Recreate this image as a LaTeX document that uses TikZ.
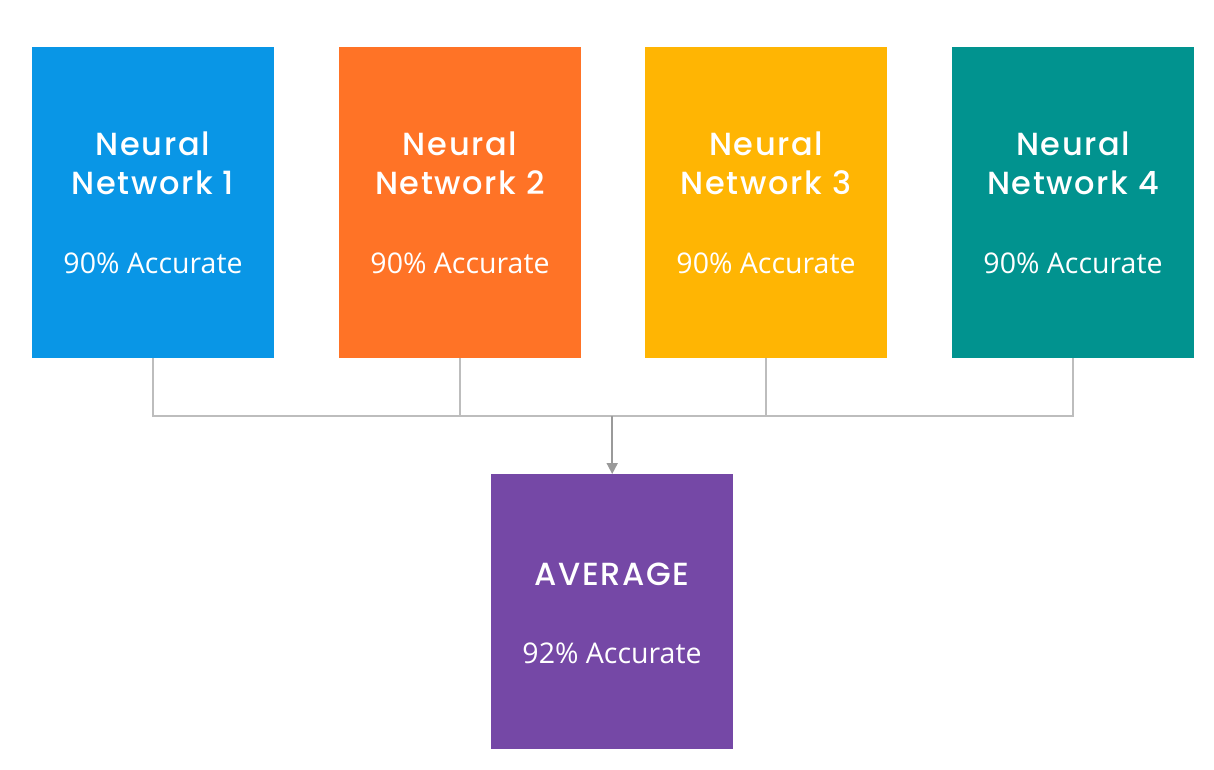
\documentclass[tikz,border=0pt]{standalone}
\usepackage{fontspec}
\setmainfont{Open Sans}
\newfontfamily\titlefont{Poppins Medium}[LetterSpace=5]
\usetikzlibrary{arrows.meta}
\definecolor{nnblue}{HTML}{0996E6}
\definecolor{nnorange}{HTML}{FF7326}
\definecolor{nnyellow}{HTML}{FFB503}
\definecolor{nnteal}{HTML}{01938F}
\definecolor{nnpurple}{HTML}{7548A6}
\definecolor{linegray}{HTML}{BDBDBD}
\definecolor{arrowgray}{HTML}{9A9A9A}
\tikzset{
  nnbox/.style={rectangle, minimum width=242pt, minimum height=311pt, inner sep=0pt, anchor=north west},
  avgbox/.style={rectangle, minimum width=242pt, minimum height=275pt, inner sep=0pt, anchor=north west, fill=nnpurple},
  ttl/.style={text=white, font=\titlefont\fontsize{32}{39}\selectfont, align=center, anchor=base},
  acc/.style={text=white, font=\fontsize{28.5}{32}\selectfont, anchor=base},
  conn/.style={draw=linegray, line width=1.8pt},
  arr/.style={draw=arrowgray, line width=1.8pt, -{Triangle[length=11pt,width=11pt]}}
}
\begin{document}
\begin{tikzpicture}[x=1pt,y=-1pt]
\useasboundingbox (0,0) rectangle (1214,769);
\foreach \i/\x/\c in {1/32/nnblue,2/339/nnorange,3/645/nnyellow,4/952/nnteal}{
  \node[nnbox, fill=\c] (b\i) at (\x,47) {};
  \node[ttl] (t\i) at (\x+121,194) {Neural\\Network \i};
  \node[acc] (a\i) at (\x+121,273) {90\% Accurate};
}
\node[avgbox] (avg) at (491,474) {};
\node[ttl] (tavg) at (612,585) {AVERAGE};
\node[acc] (aavg) at (612,663) {92\% Accurate};
\coordinate (j1) at (b1.south |- 0,416);
\coordinate (j4) at (b4.south |- 0,416);
\coordinate (jm) at (avg.north |- 0,416);
\draw[conn] (b1.south) -- (j1) -- (j4) -- (b4.south);
\draw[conn] (b2.south) -- (b2.south |- jm);
\draw[conn] (b3.south) -- (b3.south |- jm);
\draw[arr] (jm) -- (avg.north);
\end{tikzpicture}
\end{document}
